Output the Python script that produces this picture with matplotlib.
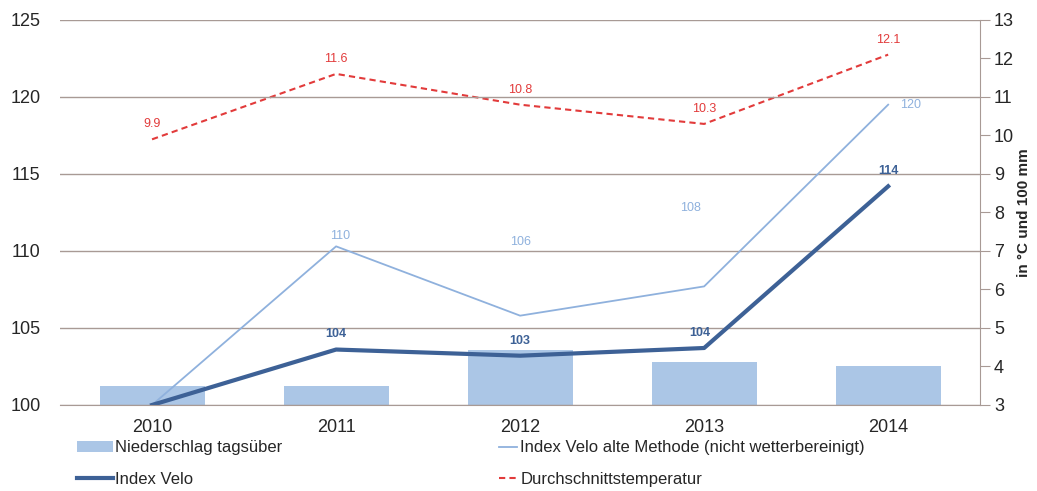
import numpy as np
import matplotlib.pyplot as plt
from matplotlib.patches import Patch
from matplotlib.lines import Line2D

plt.rcParams['font.family'] = ['Liberation Sans', 'DejaVu Sans']

## data
years = ['2010', '2011', '2012', '2013', '2014']
niederschlag = [3.5, 3.5, 4.43, 4.12, 4.0]          # right axis (100 mm)
temperatur = [9.9, 11.6, 10.8, 10.3, 12.1]           # right axis (°C)
index_alt = [100.0, 110.3, 105.8, 107.7, 119.5]      # left axis
index_velo = [100.0, 103.6, 103.2, 103.7, 114.2]     # left axis
temp_labels = ['9.9', '11.6', '10.8', '10.3', '12.1']
alt_labels = ['', '110', '106', '108', '120']
velo_labels = ['', '104', '103', '104', '114']

## colors
c_bar = '#abc6e6'
c_alt = '#8fb1dd'
c_velo = '#3d6196'
c_temp = '#e23b3b'
c_grid = '#a89a95'
c_text = '#262626'

fig = plt.figure(figsize=(10.37, 4.91), dpi=100)
ax = fig.add_axes([0.0579, 0.1752, 0.8873, 0.7841])
ax2 = ax.twinx()

x = np.arange(len(years))

# bars + temperature on right axis
ax2.bar(x, [v - 3 for v in niederschlag], bottom=3, width=0.57, color=c_bar, zorder=1)
ax2.plot(x, temperatur, color=c_temp, lw=1.5, ls=(0, (3, 2)), zorder=3)
ax2.set_ylim(3, 13)
ax2.set_yticks(range(3, 14))
ax2.tick_params(axis='y', length=7, direction='out', colors=c_grid, labelcolor=c_text,
                labelsize=13, pad=3)
ax2.set_ylabel('in °C und 100 mm', fontsize=11, fontweight='bold', color=c_text, labelpad=2)

# index lines on left axis (drawn on top)
ax.set_zorder(ax2.get_zorder() + 1)
ax.patch.set_visible(False)
ax.plot(x, index_alt, color=c_alt, lw=1.3)
ax.plot(x, index_velo, color=c_velo, lw=3)
ax.set_ylim(100, 125)
ax.set_xlim(-0.5, 4.5)
ax.set_yticks(range(100, 126, 5))
ax.set_xticks(x)
ax.set_xticklabels(years)
ax.tick_params(axis='y', length=0, labelsize=13, pad=14, labelcolor=c_text)
ax.tick_params(axis='x', length=0, labelsize=13, pad=10, labelcolor=c_text)
ax.yaxis.grid(True, color=c_grid, lw=1)
ax.set_axisbelow(True)

for a in (ax, ax2):
    for s in ('top', 'left'):
        a.spines[s].set_visible(False)
    a.spines['bottom'].set_color(c_grid)
    a.spines['right'].set_color(c_grid)
ax.spines['right'].set_visible(False)
ax2.spines['bottom'].set_visible(False)

# data labels
for i, t in enumerate(temp_labels):
    ax2.annotate(t, (x[i], temperatur[i]), xytext=(0, 9), textcoords='offset pixels',
                 ha='center', va='bottom', fontsize=9, color=c_temp)
alt_off = [(0, 0), (4, 4), (0, 68), (-14, 72), (22, 0)]
alt_va = ['bottom', 'bottom', 'bottom', 'bottom', 'center']
for i, t in enumerate(alt_labels):
    if t:
        ax.annotate(t, (x[i], index_alt[i]), xytext=alt_off[i], textcoords='offset pixels',
                    ha='center', va=alt_va[i], fontsize=9, color=c_alt)
velo_off = [(0, 0), (0, 10), (0, 9), (-4, 9), (0, 9)]
for i, t in enumerate(velo_labels):
    if t:
        ax.annotate(t, (x[i], index_velo[i]), xytext=velo_off[i], textcoords='offset pixels',
                    ha='center', va='bottom', fontsize=9, color=c_velo, fontweight='bold')

# legend, two columns
h1 = [Patch(facecolor=c_bar, edgecolor='none'), Line2D([], [], color=c_velo, lw=3)]
h2 = [Line2D([], [], color=c_alt, lw=1.3), Line2D([], [], color=c_temp, lw=1.5, ls=(0, (3, 2)))]
leg1 = fig.legend(h1, ['Niederschlag tagsüber', 'Index Velo'], loc='upper left',
                  bbox_to_anchor=(0.074, 0.103), frameon=False, fontsize=12,
                  handlelength=2.2, handletextpad=0.1, labelspacing=1.0, borderaxespad=0,
                  borderpad=0, labelcolor=c_text)
leg2 = fig.legend(h2, ['Index Velo alte Methode (nicht wetterbereinigt)', 'Durchschnittstemperatur'],
                  loc='upper left', bbox_to_anchor=(0.481, 0.103), frameon=False, fontsize=12,
                  handlelength=1.1, handletextpad=0.2, labelspacing=1.0, borderaxespad=0,
                  borderpad=0, labelcolor=c_text)

plt.savefig('out.png', dpi=100)
